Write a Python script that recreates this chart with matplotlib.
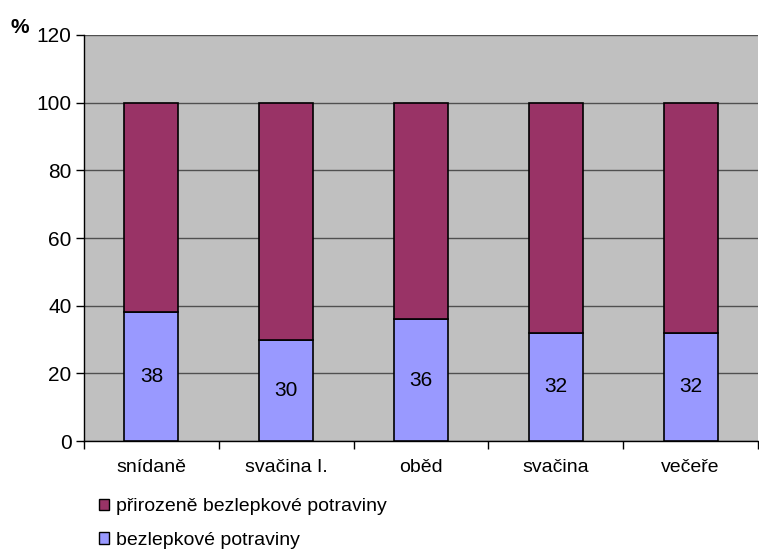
import numpy as np
import matplotlib.pyplot as plt
from matplotlib.patches import Patch

plt.rcParams['font.family'] = ['Liberation Sans', 'DejaVu Sans']

# meals and share of each food type (%)
meals = ['snídaně', 'svačina I.', 'oběd', 'svačina', 'večeře']
gluten_free = [38, 30, 36, 32, 32]
naturally_free = [62, 70, 64, 68, 68]

fs = 14

fig = plt.figure(figsize=(7.59, 5.52), dpi=100)
ax = fig.add_axes([0.1107, 0.201, 0.888, 0.7356])
ax.set_facecolor('#C0C0C0')

x = np.arange(len(meals))
ax.bar(x, gluten_free, width=0.4, color='#9999FF', edgecolor='black', linewidth=1.2, zorder=3)
ax.bar(x, naturally_free, width=0.4, bottom=gluten_free, color='#993366',
       edgecolor='black', linewidth=1.2, zorder=3)

for xi, v in zip(x, gluten_free):
    ax.text(xi, v / 2, str(v), ha='center', va='center', fontsize=15, zorder=4)

ax.set_xlim(-0.5, len(meals) - 0.5)
ax.set_ylim(0, 120)
ax.set_yticks(range(0, 121, 20))
ax.yaxis.grid(True, color='#505050', linewidth=1, zorder=1)
ax.set_xticks(x)
ax.set_xticklabels(meals, fontsize=fs)
ax.tick_params(axis='x', length=0, pad=13)
ax.set_xticks(np.arange(-0.5, len(meals)), minor=True)
ax.tick_params(axis='x', which='minor', length=6, width=1)
ax.tick_params(axis='y', length=6, width=1, labelsize=15, pad=3)

for side in ['top', 'right']:
    ax.spines[side].set_visible(False)
ax.spines['left'].set_linewidth(1)
ax.spines['bottom'].set_linewidth(1)

fig.text(0.014, 0.951, '%', fontsize=15, fontweight='bold', ha='left', va='center')

handles = [Patch(facecolor='#993366', edgecolor='black'),
           Patch(facecolor='#9999FF', edgecolor='black')]
labels = ['přirozeně bezlepkové potraviny', 'bezlepkové potraviny']
fig.legend(handles, labels, loc='upper left', bbox_to_anchor=(0.13, 0.097),
           frameon=False, fontsize=fs, handlelength=0.55, handleheight=0.55,
           handletextpad=0.35, labelspacing=0.85, borderpad=0, borderaxespad=0)

fig.savefig('out.png', dpi=100)
